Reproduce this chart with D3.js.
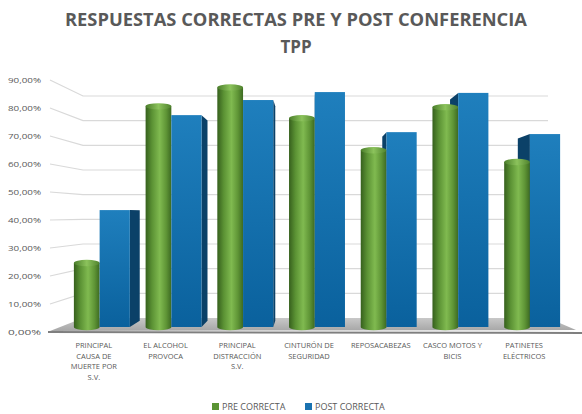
<!DOCTYPE html>
<html>
<head>
<meta charset="utf-8">
<script src="https://cdn.jsdelivr.net/npm/d3@7"></script>
<style>
  html, body { margin: 0; padding: 0; background: #fff; }
  svg { display: block; font-family: "Open Sans", "DejaVu Sans", sans-serif; }
</style>
</head>
<body>
<svg id="chart" width="582" height="414"></svg>
<script>
/* ───────────── DATA ───────────── */
const categories = [
  ["PRINCIPAL", "CAUSA DE", "MUERTE POR", "S.V."],
  ["EL ALCOHOL", "PROVOCA"],
  ["PRINCIPAL", "DISTRACCIÓN", "S.V."],
  ["CINTURÓN DE", "SEGURIDAD"],
  ["REPOSACABEZAS"],
  ["CASCO MOTOS Y", "BICIS"],
  ["PATINETES", "ELÉCTRICOS"]
];
const preValues  = [23.3, 80.4, 87.3, 76.1, 64.4, 80.1, 60.1];   // % PRE CORRECTA
const postValues = [42.6, 77.2, 82.7, 85.6, 71.0, 85.3, 70.3];   // % POST CORRECTA
const yTicks = [0, 10, 20, 30, 40, 50, 60, 70, 80, 90];
const seriesNames = ["PRE CORRECTA", "POST CORRECTA"];
const titleLines = ["RESPUESTAS CORRECTAS PRE Y POST CONFERENCIA", "TPP"];

/* ───────────── SETUP ───────────── */
const svg = d3.select("#chart");
const defs = svg.append("defs");

const idx = d3.range(categories.length);
const x = d3.scaleBand().domain(idx).range([66, 568]).paddingInner(0.22).paddingOuter(0.11);

const yFront = d3.scaleLinear().domain([0, 90]).range([332, 80]);   // axis labels plane
const yBack  = d3.scaleLinear().domain([0, 90]).range([318, 96]);   // back wall
const yBar   = d3.scaleLinear().domain([0, 90]).range([327, 80]);   // bars plane

const vp = { x: 310, y: 215 }, depth = 0.055;   // simple perspective for bar sides
const fmt = v => d3.format(".2f")(v).replace(".", ",") + "%";

/* gradients */
const gCyl = defs.append("linearGradient").attr("id", "cyl").attr("x1", 0).attr("x2", 1).attr("y1", 0).attr("y2", 0);
[["0%", "#36601d"], ["25%", "#5b9234"], ["55%", "#80ba50"], ["80%", "#5f9536"], ["100%", "#3d6a22"]]
  .forEach(([o, c]) => gCyl.append("stop").attr("offset", o).attr("stop-color", c));
const gTop = defs.append("linearGradient").attr("id", "cyltop").attr("x1", 0).attr("x2", 1).attr("y1", 0).attr("y2", 0);
[["0%", "#4a7d2a"], ["50%", "#8cc35c"], ["100%", "#4f822d"]]
  .forEach(([o, c]) => gTop.append("stop").attr("offset", o).attr("stop-color", c));
const gBox = defs.append("linearGradient").attr("id", "box").attr("x1", 0).attr("x2", 0).attr("y1", 0).attr("y2", 1);
[["0%", "#1f7fbd"], ["100%", "#0a619d"]]
  .forEach(([o, c]) => gBox.append("stop").attr("offset", o).attr("stop-color", c));
const gFloor = defs.append("linearGradient").attr("id", "floor").attr("x1", 0).attr("x2", 0).attr("y1", 0).attr("y2", 1);
[["0%", "#c8c8c8"], ["100%", "#a6a6a6"]]
  .forEach(([o, c]) => gFloor.append("stop").attr("offset", o).attr("stop-color", c));

/* ───────────── TITLE ───────────── */
svg.selectAll("text.title").data(titleLines).join("text")
  .attr("class", "title")
  .attr("x", 296).attr("y", (d, i) => 26 + i * 27)
  .attr("text-anchor", "middle")
  .attr("fill", "#595959")
  .style("font-size", "17px").style("font-weight", "bold")
  .attr("textLength", (d, i) => i === 0 ? 462 : null)
  .attr("lengthAdjust", "spacingAndGlyphs")
  .text(d => d);

/* ───────────── WALLS / GRID ───────────── */
const wallL = 83, wallR = 548;
const grid = svg.append("g").attr("stroke", "#d9d9d9").attr("stroke-width", 1.2).attr("fill", "none");
grid.selectAll("path").data(yTicks.filter(t => t > 0)).join("path")
  .attr("d", t => `M50,${yFront(t)}L${wallL},${yBack(t)}L${wallR},${yBack(t)}`);

svg.selectAll("text.ytick").data(yTicks).join("text")
  .attr("class", "ytick")
  .attr("x", 41).attr("y", t => yFront(t) + 3)
  .attr("text-anchor", "end")
  .attr("fill", "#595959")
  .style("font-size", "8px")
  .attr("textLength", 33).attr("lengthAdjust", "spacingAndGlyphs")
  .text(fmt);

/* floor */
svg.append("path")
  .attr("d", `M50,331L${wallL},${yBack(0)}L${wallR},${yBack(0)}L576,330Z`)
  .attr("fill", "url(#floor)");
svg.append("line")
  .attr("x1", 48).attr("x2", 582).attr("y1", 332).attr("y2", 333)
  .attr("stroke", "#7f7f7f").attr("stroke-width", 2);

/* ───────────── BARS ───────────── */
const proj = (px, py) => [px + (vp.x - px) * depth, py + (vp.y - py) * depth];
const bw = x.bandwidth();
const greenW = bw * 0.46;

const bars = svg.append("g");
idx.forEach(i => {
  const g = bars.append("g");
  const x0 = x(i), xm = x0 + greenW, x1 = x0 + bw;
  const base = yBar(0);

  // blue box: side face first
  const bt = yBar(postValues[i]);
  const edge = (xm + x1) / 2 < vp.x ? x1 : xm;
  const [tx, ty] = proj(edge, bt), [bx, by] = proj(edge, base);
  g.append("path")
    .attr("d", `M${edge},${bt}L${tx},${ty}L${bx},${by}L${edge},${base}Z`)
    .attr("fill", "#0b4168");

  // green cylinder
  const gt = yBar(preValues[i]);
  const rx = greenW / 2, ry = 3.2, cx = x0 + rx;
  g.append("path")
    .attr("d", `M${x0},${gt}L${x0},${base}A${rx},${ry} 0 0 0 ${x0 + greenW},${base}L${x0 + greenW},${gt}Z`)
    .attr("fill", "url(#cyl)");
  g.append("ellipse")
    .attr("cx", cx).attr("cy", gt).attr("rx", rx).attr("ry", ry)
    .attr("fill", "url(#cyltop)");

  // blue front face
  g.append("rect")
    .attr("x", xm).attr("y", bt).attr("width", x1 - xm).attr("height", base - bt)
    .attr("fill", "url(#box)");
});

/* ───────────── CATEGORY LABELS ───────────── */
const labels = svg.append("g").attr("fill", "#595959").style("font-size", "7.5px").attr("text-anchor", "middle");
idx.forEach(i => {
  labels.append("text")
    .attr("x", x(i) + bw / 2 - 8)
    .selectAll("tspan").data(categories[i]).join("tspan")
    .attr("x", x(i) + bw / 2 - 8)
    .attr("y", (d, j) => 348 + j * 10.7)
    .text(d => d);
});

/* ───────────── LEGEND ───────────── */
const legend = svg.append("g").style("font-size", "9px").attr("fill", "#595959");
const legX = [212, 305], legColors = ["#5a9434", "#1a72b0"];
seriesNames.forEach((s, i) => {
  legend.append("rect").attr("x", legX[i]).attr("y", 403).attr("width", 7).attr("height", 7).attr("fill", legColors[i]);
  legend.append("text").attr("x", legX[i] + 10).attr("y", 410).text(s);
});
</script>
</body>
</html>
